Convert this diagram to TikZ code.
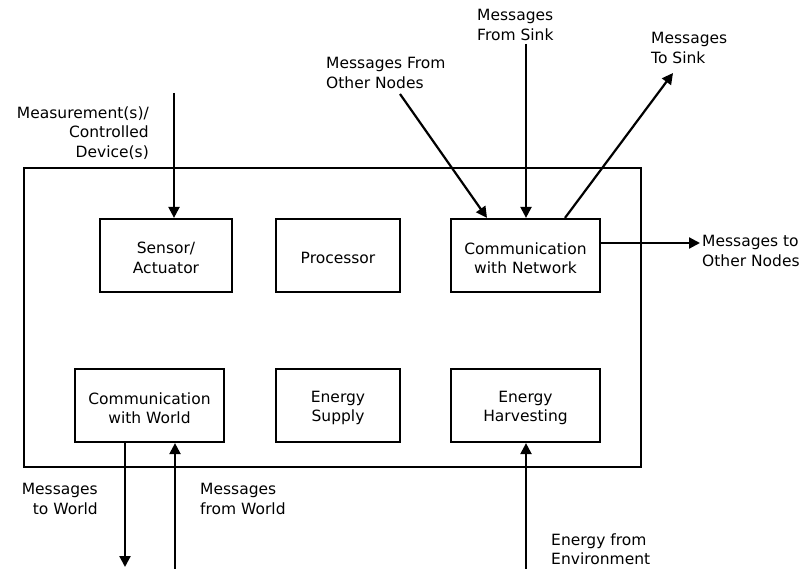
\documentclass[tikz,border=0pt]{standalone}
\usepackage{fontspec}
\setmainfont{DejaVu Sans}
\usetikzlibrary{arrows.meta}
\tikzset{
  blk/.style={draw, line width=2.2pt, minimum width=#1, minimum height=73pt, inner sep=0pt},
  btxt/.style={inner sep=0pt, align=center, yshift=-2.5pt},
  arr/.style={line width=2.2pt, -{Triangle[length=11pt,width=11pt]}},
  lbl/.style={inner sep=0pt},
}
\begin{document}
\begin{tikzpicture}[x=1pt,y=-1pt, every node/.style={font=\fontsize{15.5}{19.5}\selectfont}]
\useasboundingbox (0,0) rectangle (801,569);
% outer box
\node[draw, line width=2.2pt, minimum width=617pt, minimum height=299pt, inner sep=0pt] (outer) at (332.5,317.5) {};
% inner blocks
\node[blk=132pt, label={[btxt]center:{Sensor/\\Actuator}}] (sa) at (166,255.5) {};
\node[blk=124pt, label={[btxt]center:{Processor}}] (pr) at (338,255.5) {};
\node[blk=149pt, label={[btxt]center:{Communication\\with Network}}] (cn) at (525.5,255.5) {};
\node[blk=149pt, label={[btxt]center:{Communication\\with World}}] (cw) at (149.5,405.5) {};
\node[blk=124pt, label={[btxt]center:{Energy\\Supply}}] (es) at (338,405.5) {};
\node[blk=149pt, label={[btxt]center:{Energy\\Harvesting}}] (eh) at (525.5,405.5) {};
% free ends
\coordinate (m0) at (174,93);
\coordinate (mon0) at (400,94);
\coordinate (mon1) at (487,216);
\coordinate (fs0) at (526,44);
\coordinate (ts0) at (565,218);
\coordinate (ts1) at (673,73);
\coordinate (ton) at (700,243);
\coordinate (tw) at (125,567);
\coordinate (fw) at (175,569);
\coordinate (fe) at (526,569);
% connectors
\draw[arr] (m0) -- (sa.north -| m0);
\draw[arr] (mon0) -- (cn.north -| mon1);
\draw[arr] (fs0) -- (cn.north -| fs0);
\draw[arr] (cn.north -| ts0) -- (ts1);
\draw[arr] (cn.east |- ton) -- (ton);
\draw[arr] (cw.south -| tw) -- (tw);
\draw[arr] (fw) -- (cw.south -| fw);
\draw[arr] (fe) -- (eh.south -| fe);
% labels
\node[lbl, anchor=east, align=right] (lm) at (149,133) {Measurement(s)/\\Controlled\ \\Device(s)};
\node[lbl, anchor=west, align=left] (lmon) at (326,73) {Messages From\\Other Nodes};
\node[lbl, anchor=west, align=left] (lfs) at (477,25) {Messages\\From Sink};
\node[lbl, anchor=west, align=left] (lts) at (651,48) {Messages\\To Sink};
\node[lbl, anchor=west, align=left] (lton) at (702,251) {Messages to\\Other Nodes};
\node[lbl, anchor=east, align=right] (ltw) at (98,499) {Messages\\to World};
\node[lbl, anchor=west, align=left] (lfw) at (200,499) {Messages\\from World};
\node[lbl, anchor=west, align=left] (lfe) at (551,549) {Energy from\\Environment};
\end{tikzpicture}
\end{document}
